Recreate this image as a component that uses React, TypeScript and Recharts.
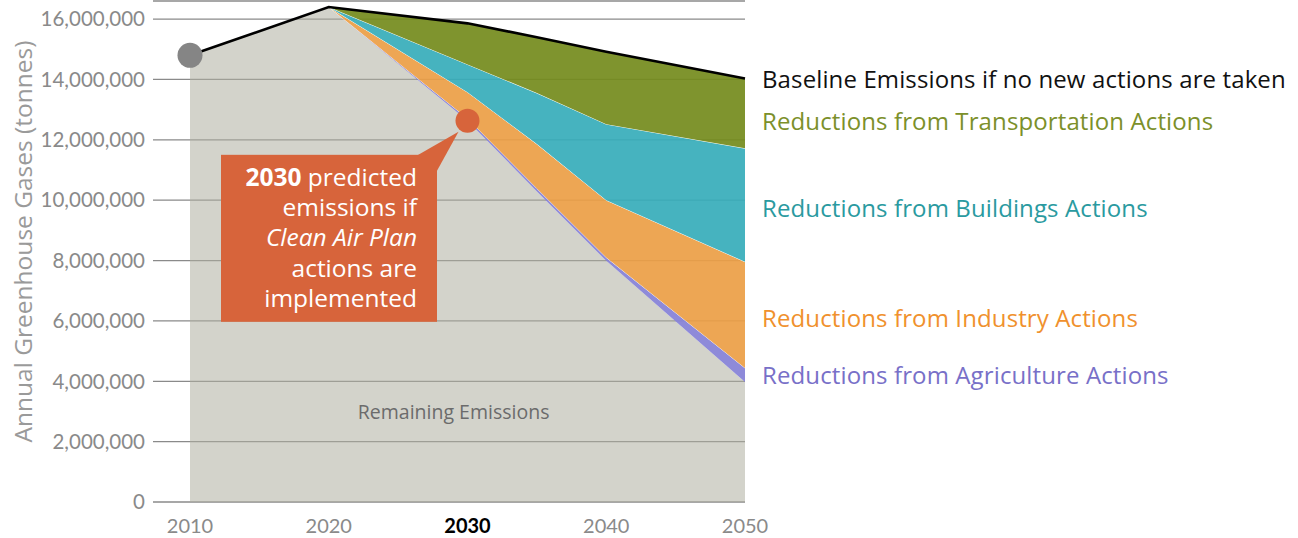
import React from 'react';
import { ComposedChart, Area, Line, XAxis, YAxis, CartesianGrid, ReferenceDot } from 'recharts';

const NUM_FONT = "Lato, 'Open Sans', sans-serif";
const TXT_FONT = "'Open Sans', Lato, sans-serif";

// Years (x values)
const years = [2010, 2020, 2030, 2035, 2040, 2050];
// Stacked series (tonnes)
const remaining = [14800000, 16400000, 12630000, 10290000, 7990000, 3980000];
const agriculture = [0, 0, 80000, 100000, 110000, 460000];
const industry = [0, 0, 870000, 1470000, 1900000, 3520000];
const buildings = [0, 0, 920000, 1690000, 2520000, 3760000];
const transportation = [0, 0, 1360000, 1850000, 2400000, 2310000];

const xTicks = [2010, 2020, 2030, 2040, 2050];
const yTicks = [0, 2000000, 4000000, 6000000, 8000000, 10000000, 12000000, 14000000, 16000000];

const COLORS = {
  remaining: '#AFAFA0',
  agriculture: '#8884D7',
  industry: '#EB9E45',
  buildings: '#36ADBA',
  transportation: '#748B1C',
  callout: '#D7643B',
};

const data = years.map((year, i) => ({
  year,
  remaining: remaining[i],
  agriculture: agriculture[i],
  industry: industry[i],
  buildings: buildings[i],
  transportation: transportation[i],
  baseline: remaining[i] + agriculture[i] + industry[i] + buildings[i] + transportation[i],
}));

const last = data.length - 1;
const agTop = remaining[last] + agriculture[last];
const indTop = agTop + industry[last];
const bldTop = indTop + buildings[last];
const total = bldTop + transportation[last];

const sideLabels = [
  { text: 'Baseline Emissions if no new actions are taken', color: '#111111', y: total, dy: 0 },
  { text: 'Reductions from Transportation Actions', color: '#7C902A', y: (bldTop + total) / 2, dy: 7 },
  { text: 'Reductions from Buildings Actions', color: '#2A9AA0', y: (indTop + bldTop) / 2, dy: 2 },
  { text: 'Reductions from Industry Actions', color: '#F0912D', y: (agTop + indTop) / 2, dy: 3 },
  { text: 'Reductions from Agriculture Actions', color: '#7870C8', y: (remaining[last] + agTop) / 2, dy: 0 },
];

const sideLabel = (text: string, color: string, dy: number) => (props: any) => {
  const vb = props.viewBox || { x: 0, y: 0, width: 0, height: 0 };
  const x = vb.x + vb.width + 17;
  const y = vb.y + vb.height / 2 + dy;
  return (
    <text x={x} y={y} dominantBaseline="central" fill={color} fontSize={24} letterSpacing={0.12} fontFamily={TXT_FONT}>
      {text}
    </text>
  );
};

const callout = (props: any) => {
  const vb = props.viewBox || { x: 0, y: 0, width: 0, height: 0 };
  const cx = vb.x + vb.width / 2;
  const cy = vb.y + vb.height / 2;
  const left = cx - 246.5;
  const right = cx - 30.5;
  const top = cy + 34;
  const bottom = cy + 201;
  const tx = cx - 50.5;
  const b0 = cy + 65;
  const step = 30.3;
  return (
    <g>
      <rect x={left} y={top} width={right - left} height={bottom - top} fill={COLORS.callout} />
      <polygon
        points={`${cx - 50},${top + 0.5} ${cx - 9},${cy + 11} ${right},${top + 16}`}
        fill={COLORS.callout}
      />
      <text textAnchor="end" fill="#ffffff" fontSize={24.5} fontFamily={TXT_FONT}>
        <tspan x={tx} y={b0}>
          <tspan fontWeight={700}>2030</tspan> predicted
        </tspan>
        <tspan x={tx} y={b0 + step}>emissions if</tspan>
        <tspan x={tx} y={b0 + step * 2} fontStyle="italic">Clean Air Plan</tspan>
        <tspan x={tx} y={b0 + step * 3}>actions are</tspan>
        <tspan x={tx} y={b0 + step * 4}>implemented</tspan>
      </text>
    </g>
  );
};

const remainingLabel = (props: any) => {
  const vb = props.viewBox || { x: 0, y: 0, width: 0, height: 0 };
  return (
    <text
      x={vb.x + vb.width / 2}
      y={vb.y + vb.height / 2}
      textAnchor="middle"
      dominantBaseline="central"
      fill="#6b6b6b"
      fontSize={19.5}
      fontFamily={TXT_FONT}
    >
      Remaining Emissions
    </text>
  );
};

const yAxisTitle = (props: any) => {
  const vb = props.viewBox || { x: 0, y: 1, width: 153, height: 501 };
  const x = vb.x + 22;
  const y = vb.y + vb.height / 2 - 10;
  return (
    <text
      x={x}
      y={y}
      transform={`rotate(-90, ${x}, ${y})`}
      textAnchor="middle"
      dominantBaseline="central"
      fill="#9a9a9a"
      fontSize={24.5}
      fontFamily={TXT_FONT}
    >
      Annual Greenhouse Gases (tonnes)
    </text>
  );
};

const XTick = (props: any) => {
  const { x, y, payload } = props;
  const bold = payload.value === 2030;
  return (
    <text
      x={x}
      y={y}
      dy={23}
      textAnchor="middle"
      fill={bold ? '#000000' : '#8a8a8a'}
      fontWeight={bold ? 700 : 400}
      fontSize={20}
      fontFamily={NUM_FONT}
    >
      {payload.value}
    </text>
  );
};

export default function App() {
  return (
    <div style={{ position: 'absolute', left: 0, top: 0 }}>
      <ComposedChart width={1298} height={538} data={data} margin={{ top: 1, right: 553, bottom: 0, left: 0 }}>
        <CartesianGrid vertical={false} horizontal stroke="#8a8a8a" strokeWidth={1.3} />
        <XAxis
          type="number"
          dataKey="year"
          domain={[2010, 2050]}
          ticks={xTicks}
          interval={0}
          padding={{ left: 37, right: 0 }}
          axisLine={false}
          tickLine={false}
          height={36}
          tick={<XTick />}
        />
        <YAxis
          type="number"
          domain={[0, 16600000]}
          ticks={yTicks}
          interval={0}
          width={153}
          axisLine={false}
          tickLine={false}
          tickFormatter={(v: number) => v.toLocaleString('en-US')}
          tick={{ fill: '#8a8a8a', fontSize: 20.5, fontFamily: NUM_FONT }}
          label={{ content: yAxisTitle }}
        />
        <Area type="linear" dataKey="remaining" stackId="s" fill={COLORS.remaining} fillOpacity={0.55} stroke="none" isAnimationActive={false} activeDot={false} />
        <Area type="linear" dataKey="agriculture" stackId="s" fill={COLORS.agriculture} fillOpacity={0.95} stroke="#ffffff" strokeWidth={0.8} isAnimationActive={false} activeDot={false} />
        <Area type="linear" dataKey="industry" stackId="s" fill={COLORS.industry} fillOpacity={0.92} stroke="#ffffff" strokeWidth={1} isAnimationActive={false} activeDot={false} />
        <Area type="linear" dataKey="buildings" stackId="s" fill={COLORS.buildings} fillOpacity={0.92} stroke="#ffffff" strokeWidth={1} isAnimationActive={false} activeDot={false} />
        <Area type="linear" dataKey="transportation" stackId="s" fill={COLORS.transportation} fillOpacity={0.92} stroke="none" isAnimationActive={false} activeDot={false} />
        <Line type="linear" dataKey="baseline" stroke="#000000" strokeWidth={2.6} dot={false} activeDot={false} isAnimationActive={false} />
        <ReferenceDot x={2029} y={3000000} r={0} fill="none" stroke="none" label={{ content: remainingLabel }} />
        <ReferenceDot x={years[0]} y={data[0].baseline} r={12.5} fill="#858585" stroke="none" />
        <ReferenceDot x={2030} y={remaining[2]} r={12} fill={COLORS.callout} stroke="none" label={{ content: callout }} />
        {sideLabels.map((l) => (
          <ReferenceDot key={l.text} x={years[last]} y={l.y} r={0} fill="none" stroke="none" label={{ content: sideLabel(l.text, l.color, l.dy) }} />
        ))}
      </ComposedChart>
    </div>
  );
}
